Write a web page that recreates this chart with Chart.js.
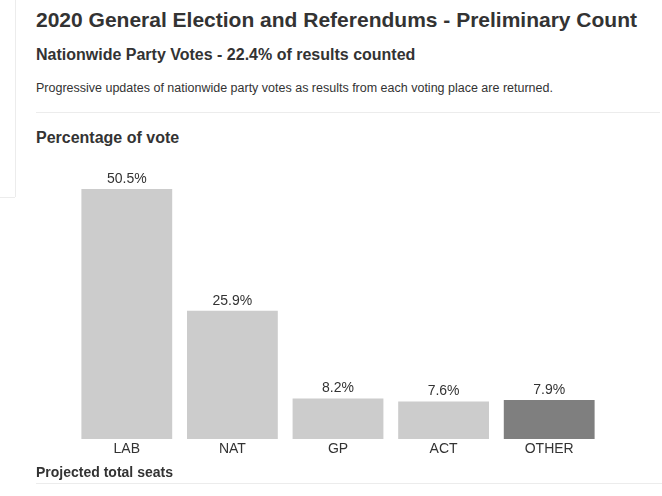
<!DOCTYPE html>
<html>
<head>
<meta charset="utf-8">
<script src="https://cdn.jsdelivr.net/npm/chart.js@4/dist/chart.umd.min.js"></script>
<style>
  body { margin: 0; width: 662px; height: 496px; background: #fff; position: relative; overflow: hidden;
         font-family: "Liberation Sans", Arial, sans-serif; color: #333; }
  .t { position: absolute; left: 36px; white-space: nowrap; line-height: 1; }
  #title { top: 9px; font-size: 21px; font-weight: bold; }
  #sub { top: 47px; font-size: 16px; font-weight: bold; }
  #desc { top: 82px; font-size: 12.5px; }
  #pct { top: 130px; font-size: 16px; font-weight: bold; }
  #seats { top: 465px; font-size: 14px; font-weight: bold; }
  .rule { position: absolute; background: #ececec; }
  #wrap { position: absolute; left: 0; top: 130px; width: 662px; height: 340px; }
</style>
</head>
<body>
<div class="rule" style="left:15px;top:0;width:1px;height:197px;"></div>
<div class="rule" style="left:0;top:197px;width:15px;height:1px;"></div>
<div class="t" id="title">2020 General Election and Referendums - Preliminary Count</div>
<div class="t" id="sub">Nationwide Party Votes - 22.4% of results counted</div>
<div class="t" id="desc">Progressive updates of nationwide party votes as results from each voting place are returned.</div>
<div class="rule" style="left:36px;top:112px;width:624px;height:1px;"></div>
<div class="t" id="pct">Percentage of vote</div>
<div id="wrap"><canvas id="chart"></canvas></div>
<div class="t" id="seats">Projected total seats</div>
<div class="rule" style="left:36px;top:483px;width:626px;height:1px;"></div>
<script>
var parties = ["LAB", "NAT", "GP", "ACT", "OTHER"];
var voteShare = [50.5, 25.9, 8.2, 7.6, 7.9];
var barColours = ["#cccccc", "#cccccc", "#cccccc", "#cccccc", "#7f7f7f"];

// etiquetas de porcentaje encima de cada barra
var valueLabels = {
    id: "valueLabels",
    afterDatasetsDraw: function (chart) {
        var ctx = chart.ctx;
        var meta = chart.getDatasetMeta(0);
        ctx.save();
        ctx.font = "14px 'Liberation Sans Narrow', 'Liberation Sans', Arial, sans-serif";
        ctx.fillStyle = "#333";
        ctx.textAlign = "center";
        ctx.textBaseline = "alphabetic";
        meta.data.forEach(function (bar, i) {
            ctx.fillText(voteShare[i].toFixed(1) + "%", bar.x, bar.y - 6);
        });
        ctx.restore();
    }
};

var ctx = document.getElementById("chart").getContext("2d");
var myChart = new Chart(ctx, {
    type: "bar",
    data: {
        labels: parties,
        datasets: [{
            data: voteShare,
            backgroundColor: barColours,
            borderWidth: 0,
            categoryPercentage: 1,
            barPercentage: 0.86
        }]
    },
    plugins: [valueLabels],
    options: {
        responsive: true,
        maintainAspectRatio: false,
        animation: false,
        layout: { padding: { left: 74, right: 60, top: 12, bottom: 1 } },
        plugins: { legend: { display: false }, tooltip: { enabled: false } },
        scales: {
            x: {
                grid: { display: false, drawTicks: false },
                border: { display: false },
                ticks: { color: "#333", font: { family: "'Liberation Sans', Arial, sans-serif", size: 14 }, padding: 2 },
                afterFit: function (scale) { scale.height = 30; }
            },
            y: {
                display: false,
                beginAtZero: true,
                max: 60
            }
        }
    }
});
</script>
</body>
</html>
